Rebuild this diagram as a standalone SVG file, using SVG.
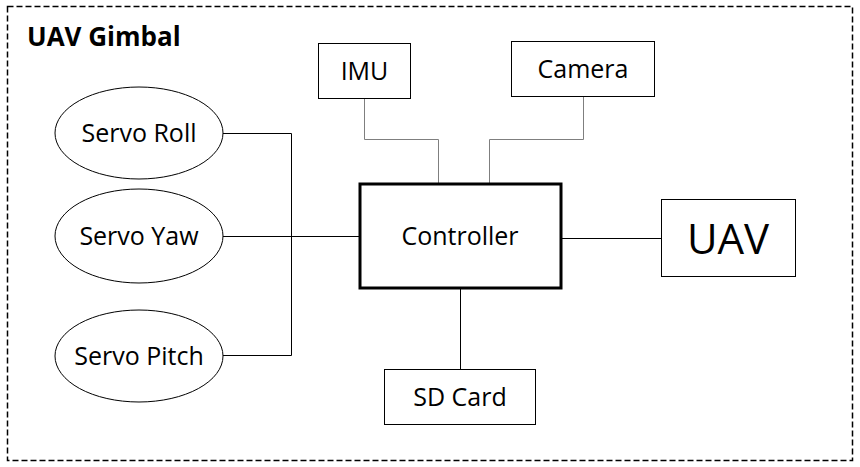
<svg xmlns="http://www.w3.org/2000/svg" width="860" height="467" viewBox="0 0 860 467">
<style>
text{font-family:"Open Sans","Noto Sans","DejaVu Sans",sans-serif;fill:#000;text-anchor:middle}
.lbl{font-size:25px}
.box{fill:#fff;stroke:#000;stroke-width:1}
.thick{stroke-width:3}
.conn{fill:none;stroke:#000;stroke-width:1}
.gray{stroke:#7f7f7f}
</style>
<rect width="860" height="467" fill="#fff"/>
<rect x="7.5" y="6.5" width="845" height="454" fill="none" stroke="#000" stroke-width="1.5" stroke-dasharray="6,3"/>
<text x="27" y="46" style="font-size:26px;font-weight:bold;text-anchor:start">UAV Gimbal</text>
<g id="connectors">
<polyline class="conn" points="223,133.5 291.5,133.5 291.5,355.5 223,355.5"/>
<line class="conn" x1="223" y1="236.5" x2="359" y2="236.5"/>
<polyline class="conn gray" points="364.5,98 364.5,139.5 438.5,139.5 438.5,183"/>
<polyline class="conn gray" points="583.5,96 583.5,139.5 489.5,139.5 489.5,183"/>
<line class="conn" x1="562" y1="238.5" x2="661" y2="238.5"/>
<line class="conn" x1="460.5" y1="289" x2="460.5" y2="369"/>
</g>
<g id="servo-roll"><ellipse class="box" cx="139" cy="133" rx="84" ry="46"/><text class="lbl" x="139" y="142">Servo Roll</text></g>
<g id="servo-yaw"><ellipse class="box" cx="139" cy="236" rx="84" ry="47"/><text class="lbl" x="139" y="245">Servo Yaw</text></g>
<g id="servo-pitch"><ellipse class="box" cx="139" cy="356" rx="84" ry="46"/><text class="lbl" x="139" y="365">Servo Pitch</text></g>
<g id="imu"><rect class="box" x="318.5" y="43.5" width="92" height="55"/><text class="lbl" x="364.5" y="80">IMU</text></g>
<g id="camera"><rect class="box" x="511.5" y="41.5" width="143" height="55"/><text class="lbl" x="583" y="78">Camera</text></g>
<g id="controller"><rect class="box thick" x="360" y="184" width="201" height="104"/><text class="lbl" x="460" y="245">Controller</text></g>
<g id="uav"><rect class="box" x="661.5" y="199.5" width="134" height="77"/><text x="728" y="254" style="font-size:42px">UAV</text></g>
<g id="sd-card"><rect class="box" x="384.5" y="369.5" width="151" height="55"/><text class="lbl" x="460" y="406">SD Card</text></g>
</svg>
